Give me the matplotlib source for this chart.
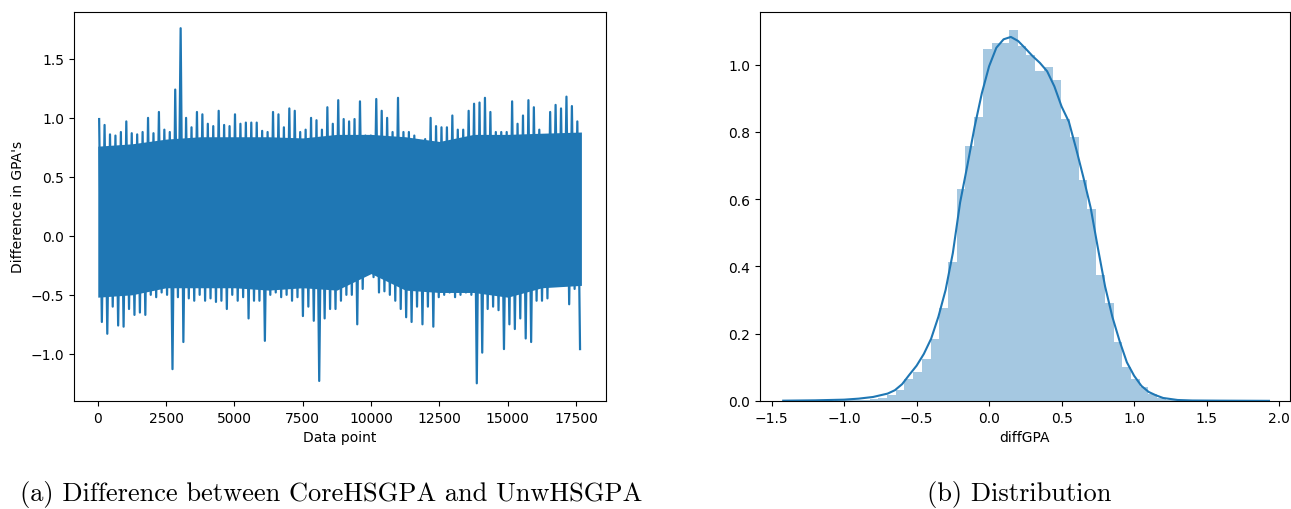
import numpy as np
import matplotlib
matplotlib.use("Agg")
import matplotlib.pyplot as plt

# ---------------- data: left panel (extremes of each ~200-point block) ----------------
n_points = 17696
upper = [0.99, 0.94, 0.86, 0.85, 0.88, 0.97, 0.87, 0.86, 0.88, 1.00,
         0.87, 1.05, 0.90, 0.88, 1.24, 1.76, 1.00, 0.92, 1.05, 1.03,
         0.95, 0.93, 1.06, 0.94, 0.93, 1.03, 0.95, 0.96, 0.96, 0.96,
         0.89, 0.88, 1.05, 1.03, 0.92, 1.08, 1.06, 0.88, 0.90, 1.00,
         0.98, 0.90, 1.09, 0.95, 1.15, 0.99, 0.97, 0.99, 1.14, 0.85,
         0.85, 1.16, 1.06, 1.00, 0.88, 1.17, 0.88, 0.88, 0.85, 0.79,
         0.82, 1.00, 0.93, 0.92, 0.92, 1.02, 0.90, 0.90, 1.06, 1.12,
         1.13, 1.17, 1.05, 0.88, 0.88, 0.88, 1.14, 0.95, 1.02, 1.15,
         1.09, 0.90, 0.85, 1.05, 1.11, 1.08, 1.18, 1.10, 0.97]
lower = [-0.73, -0.83, -0.60, -0.76, -0.77, -0.62, -0.67, -0.65, -0.67, -0.50,
         -0.52, -0.48, -0.50, -1.13, -0.52, -0.90, -0.53, -0.55, -0.50, -0.55,
         -0.53, -0.56, -0.55, -0.62, -0.50, -0.55, -0.52, -0.70, -0.55, -0.55,
         -0.89, -0.50, -0.48, -0.52, -0.50, -0.55, -0.52, -0.68, -0.60, -0.72,
         -1.23, -0.70, -0.62, -0.62, -0.55, -0.50, -0.50, -0.75, -0.45, -0.28,
         -0.35, -0.48, -0.47, -0.50, -0.55, -0.62, -0.69, -0.73, -0.60, -0.75,
         -0.60, -0.77, -0.52, -0.50, -0.48, -0.52, -0.50, -0.48, -0.50, -1.25,
         -0.99, -0.62, -0.60, -0.63, -0.96, -0.75, -0.79, -0.70, -0.87, -0.90,
         -0.55, -0.55, -0.53, -0.42, -0.40, -0.42, -0.58, -0.45, -0.96]
# densely covered part of the band (read per 1250-point stretch)
core_x = [0, 1250, 2500, 3750, 5000, 6250, 7500, 8750, 10000, 11250,
          12500, 13750, 15000, 16250, 17695]
core_top = [0.76, 0.78, 0.82, 0.84, 0.84, 0.84, 0.83, 0.86, 0.86, 0.84,
            0.80, 0.86, 0.86, 0.87, 0.88]
core_bottom = [-0.52, -0.50, -0.44, -0.44, -0.44, -0.46, -0.44, -0.46, -0.32, -0.46,
               -0.48, -0.48, -0.52, -0.44, -0.42]

# ---------------- data: right panel ----------------
hist_min, hist_max, n_bins = -1.245, 1.760, 50
hist_density = [0.001, 0.001, 0.001, 0.002, 0.002, 0.003, 0.004, 0.006, 0.010, 0.017,
                0.032, 0.064, 0.085, 0.126, 0.183, 0.277, 0.412, 0.629, 0.759, 0.845,
                1.047, 1.064, 1.064, 1.104, 1.056, 1.027, 0.980, 0.993, 0.955, 0.839,
                0.785, 0.656, 0.571, 0.373, 0.290, 0.175, 0.102, 0.064, 0.042, 0.020,
                0.008, 0.004, 0.002, 0.001, 0.001, 0.0005, 0.0005, 0.0, 0.0, 0.001]
kde_x = [-1.42, -1.2, -1.0, -0.9, -0.8, -0.7, -0.65, -0.6, -0.55, -0.5, -0.45, -0.4,
         -0.35, -0.3, -0.25, -0.2, -0.15, -0.1, -0.05, 0.0, 0.05, 0.1, 0.15, 0.2,
         0.25, 0.3, 0.35, 0.4, 0.45, 0.5, 0.55, 0.6, 0.65, 0.7, 0.75, 0.8, 0.85,
         0.9, 0.95, 1.0, 1.05, 1.1, 1.15, 1.2, 1.3, 1.4, 1.6, 1.93]
kde_y = [0.001, 0.002, 0.004, 0.007, 0.012, 0.022, 0.032, 0.050, 0.078, 0.105, 0.140, 0.185,
         0.250, 0.330, 0.440, 0.590, 0.700, 0.815, 0.915, 0.995, 1.050, 1.075, 1.082, 1.070,
         1.048, 1.025, 1.005, 0.980, 0.935, 0.875, 0.830, 0.750, 0.665, 0.575, 0.455, 0.340, 0.250,
         0.178, 0.115, 0.075, 0.045, 0.027, 0.017, 0.009, 0.003, 0.0015, 0.001, 0.0005]

left_xticks = [0, 2500, 5000, 7500, 10000, 12500, 15000, 17500]
left_yticks = [-1.0, -0.5, 0.0, 0.5, 1.0, 1.5]
right_xticks = [-1.5, -1.0, -0.5, 0.0, 0.5, 1.0, 1.5, 2.0]
right_yticks = [0.0, 0.2, 0.4, 0.6, 0.8, 1.0]

caption_a = "(a) Difference between CoreHSGPA and UnwHSGPA"
caption_b = "(b) Distribution"

# ---------------- figure ----------------
C0 = "#1f77b4"
W, H = 1291, 510
fig = plt.figure(figsize=(W / 100, H / 100), dpi=100)

ax1 = fig.add_axes([74 / W, 1 - 402 / H, (606 - 74) / W, (402 - 12.7) / H])
ax2 = fig.add_axes([760 / W, 1 - 402 / H, (1290 - 760) / W, (402 - 12.7) / H])

# left: dense core of the trace + zig-zag through each block's extremes
block_w = (n_points - 1) / len(upper)
xs, ys = [], []
for i, (hi, lo) in enumerate(zip(upper, lower)):
    xs += [i * block_w + 0.25 * block_w, i * block_w + 0.75 * block_w]
    ys += [hi, lo]
ax1.fill_between(core_x, core_bottom, core_top, color=C0, linewidth=0)
ax1.plot(xs, ys, color=C0, linewidth=1.6)
ax1.set_xlim(-870, 18595)
ax1.set_ylim(-1.40, 1.90)
ax1.set_xticks(left_xticks)
ax1.set_yticks(left_yticks)
ax1.set_xlabel("Data point", fontsize=10)
ax1.set_ylabel("Difference in GPA's", fontsize=10)
ax1.tick_params(labelsize=10)

# right: histogram + kde
edges = np.linspace(hist_min, hist_max, n_bins + 1)
ax2.bar(edges[:-1], hist_density, width=np.diff(edges), align="edge",
        color=C0, alpha=0.4, linewidth=0)
ax2.plot(kde_x, kde_y, color=C0, linewidth=1.5)
ax2.set_xlim(-1.58, 2.075)
ax2.set_ylim(0, 1.157)
ax2.set_xticks(right_xticks)
ax2.set_yticks(right_yticks)
ax2.set_xlabel("diffGPA", fontsize=10)
ax2.tick_params(labelsize=10)

fig.text(331 / W, 1 - 495 / H, caption_a, family="cmr10", fontsize=19,
         ha="center", va="center")
fig.text(1019 / W, 1 - 495 / H, caption_b, family="cmr10", fontsize=19,
         ha="center", va="center")

fig.savefig("out.png", dpi=100)
